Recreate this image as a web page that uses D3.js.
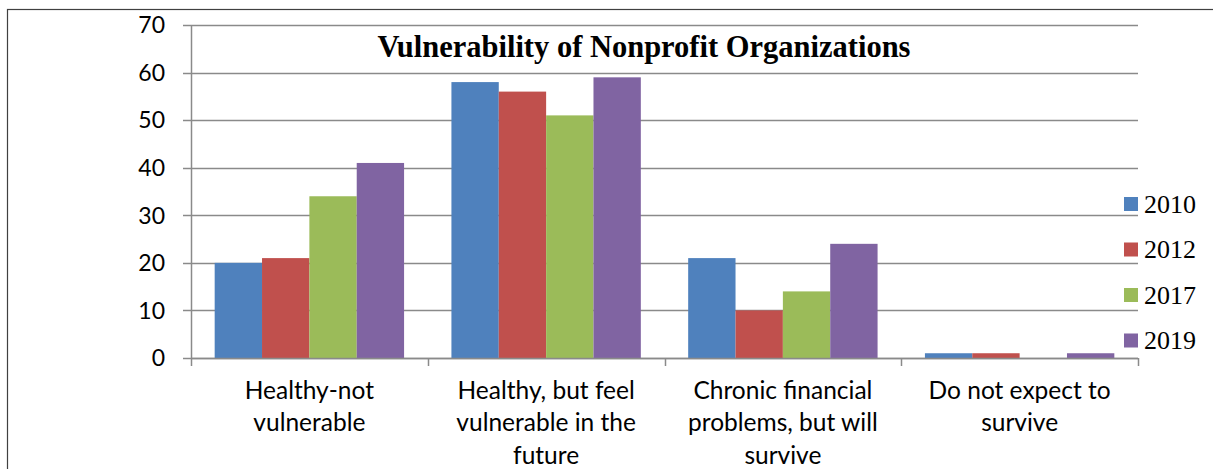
<!DOCTYPE html>
<html lang="en">

<head>
    <meta charset="UTF-8">
    <title>Vulnerability of Nonprofit Organizations</title>
    <style>
        * {
            margin: 0;
            padding: 0;
        }

        html,
        body {
            overflow: hidden;
            background: #fff;
        }
    </style>
</head>

<body>
    <div id="chart"></div>
    <script src="https://cdn.jsdelivr.net/npm/d3@7"></script>
    <script>
        // data
        const categories = [
            'Healthy-not\nvulnerable',
            'Healthy, but feel\nvulnerable in the\nfuture',
            'Chronic financial\nproblems, but will\nsurvive',
            'Do not expect to\nsurvive'
        ]
        const years = ['2010', '2012', '2017', '2019']
        const v2010 = [20, 58, 21, 1]
        const v2012 = [21, 56, 10, 1]
        const v2017 = [34, 51, 14, 0]
        const v2019 = [41, 59, 24, 1]
        const yTicks = [0, 10, 20, 30, 40, 50, 60, 70]

        const colors = ['#4F81BD', '#C0504D', '#9BBB59', '#8064A2']

        function drawChart() {
            const width = 1213
            const height = 469
            const svg = d3.select('#chart')
                .append('svg')
                .attr('width', width)
                .attr('height', height)
                .style('background', '#fff')

            const series = [v2010, v2012, v2017, v2019]
            const left = 191, right = 1138, top = 25, bottom = 358
            const axisColor = '#8a8a8a'
            const sans = 'Lato, "Open Sans", sans-serif'
            const serif = '"Liberation Serif", "Times New Roman", serif'

            // outer frame (runs off the right and bottom)
            svg.append('rect')
                .attr('x', 7.5)
                .attr('y', 9.5)
                .attr('width', 1400)
                .attr('height', 800)
                .attr('fill', 'none')
                .attr('stroke', '#404040')
                .attr('stroke-width', 1.2)

            const x = d3.scaleBand()
                .domain(categories)
                .range([left, right])
            const xSub = d3.scaleBand()
                .domain(years)
                .range([0, x.bandwidth()])
                .paddingOuter(0.5)
            const y = d3.scaleLinear()
                .domain([0, 70])
                .range([bottom, top])

            // gridlines + y ticks
            svg.selectAll('line.grid')
                .data(yTicks)
                .join('line')
                .attr('class', 'grid')
                .attr('x1', left - 8)
                .attr('x2', right)
                .attr('y1', d => Math.round(y(d)) + 0.5)
                .attr('y2', d => Math.round(y(d)) + 0.5)
                .attr('stroke', axisColor)
                .attr('stroke-width', 1.5)

            svg.selectAll('text.ytick')
                .data(yTicks)
                .join('text')
                .attr('class', 'ytick')
                .attr('x', left - 26)
                .attr('y', d => y(d))
                .attr('dy', '0.36em')
                .attr('text-anchor', 'end')
                .attr('font-family', sans)
                .attr('font-size', 23)
                .attr('fill', '#000')
                .text(d => d)

            // y axis line
            svg.append('line')
                .attr('x1', left + 0.5)
                .attr('x2', left + 0.5)
                .attr('y1', top)
                .attr('y2', bottom)
                .attr('stroke', axisColor)
                .attr('stroke-width', 1.5)

            // bars
            const groups = svg.selectAll('g.cat')
                .data(categories)
                .join('g')
                .attr('class', 'cat')
                .attr('transform', d => `translate(${x(d)},0)`)

            groups.selectAll('rect')
                .data((d, i) => years.map((yr, j) => ({ yr, v: series[j][i], c: colors[j] })))
                .join('rect')
                .attr('x', d => xSub(d.yr))
                .attr('y', d => y(d.v))
                .attr('width', xSub.bandwidth())
                .attr('height', d => bottom - y(d.v))
                .attr('fill', d => d.c)

            // x axis line + category ticks
            svg.append('line')
                .attr('x1', left)
                .attr('x2', right)
                .attr('y1', bottom + 0.5)
                .attr('y2', bottom + 0.5)
                .attr('stroke', axisColor)
                .attr('stroke-width', 1.5)

            const bounds = categories.map(d => x(d)).concat([right])
            svg.selectAll('line.xtick')
                .data(bounds)
                .join('line')
                .attr('class', 'xtick')
                .attr('x1', d => Math.round(d) + 0.5)
                .attr('x2', d => Math.round(d) + 0.5)
                .attr('y1', bottom)
                .attr('y2', bottom + 8)
                .attr('stroke', axisColor)
                .attr('stroke-width', 1.5)

            // category labels, wrapped
            svg.selectAll('text.xlab')
                .data(categories)
                .join('text')
                .attr('class', 'xlab')
                .attr('text-anchor', 'middle')
                .attr('font-family', sans)
                .attr('font-size', 24.5)
                .attr('fill', '#000')
                .each(function (d) {
                    const t = d3.select(this)
                    d.split('\n').forEach((line, k) => {
                        t.append('tspan')
                            .attr('x', x(d) + x.bandwidth() / 2)
                            .attr('y', 390 + k * 32.5)
                            .attr('dy', '0.36em')
                            .text(line)
                    })
                })

            // title
            svg.append('text')
                .attr('x', 644)
                .attr('y', 57)
                .attr('text-anchor', 'middle')
                .attr('font-family', serif)
                .attr('font-weight', 'bold')
                .attr('font-size', 30.5)
                .attr('fill', '#000')
                .text('Vulnerability of Nonprofit Organizations')

            // legend
            const legend = svg.selectAll('g.legend')
                .data(years)
                .join('g')
                .attr('class', 'legend')
                .attr('transform', (d, i) => `translate(1124,${204 + i * 45.5})`)

            legend.append('rect')
                .attr('x', 0)
                .attr('y', -7)
                .attr('width', 14)
                .attr('height', 14)
                .attr('fill', (d, i) => colors[i])

            legend.append('text')
                .attr('x', 20)
                .attr('y', 0)
                .attr('dy', '0.34em')
                .attr('font-family', serif)
                .attr('font-size', 26)
                .attr('fill', '#000')
                .text(d => d)
        }

        drawChart()
    </script>
</body>

</html>
